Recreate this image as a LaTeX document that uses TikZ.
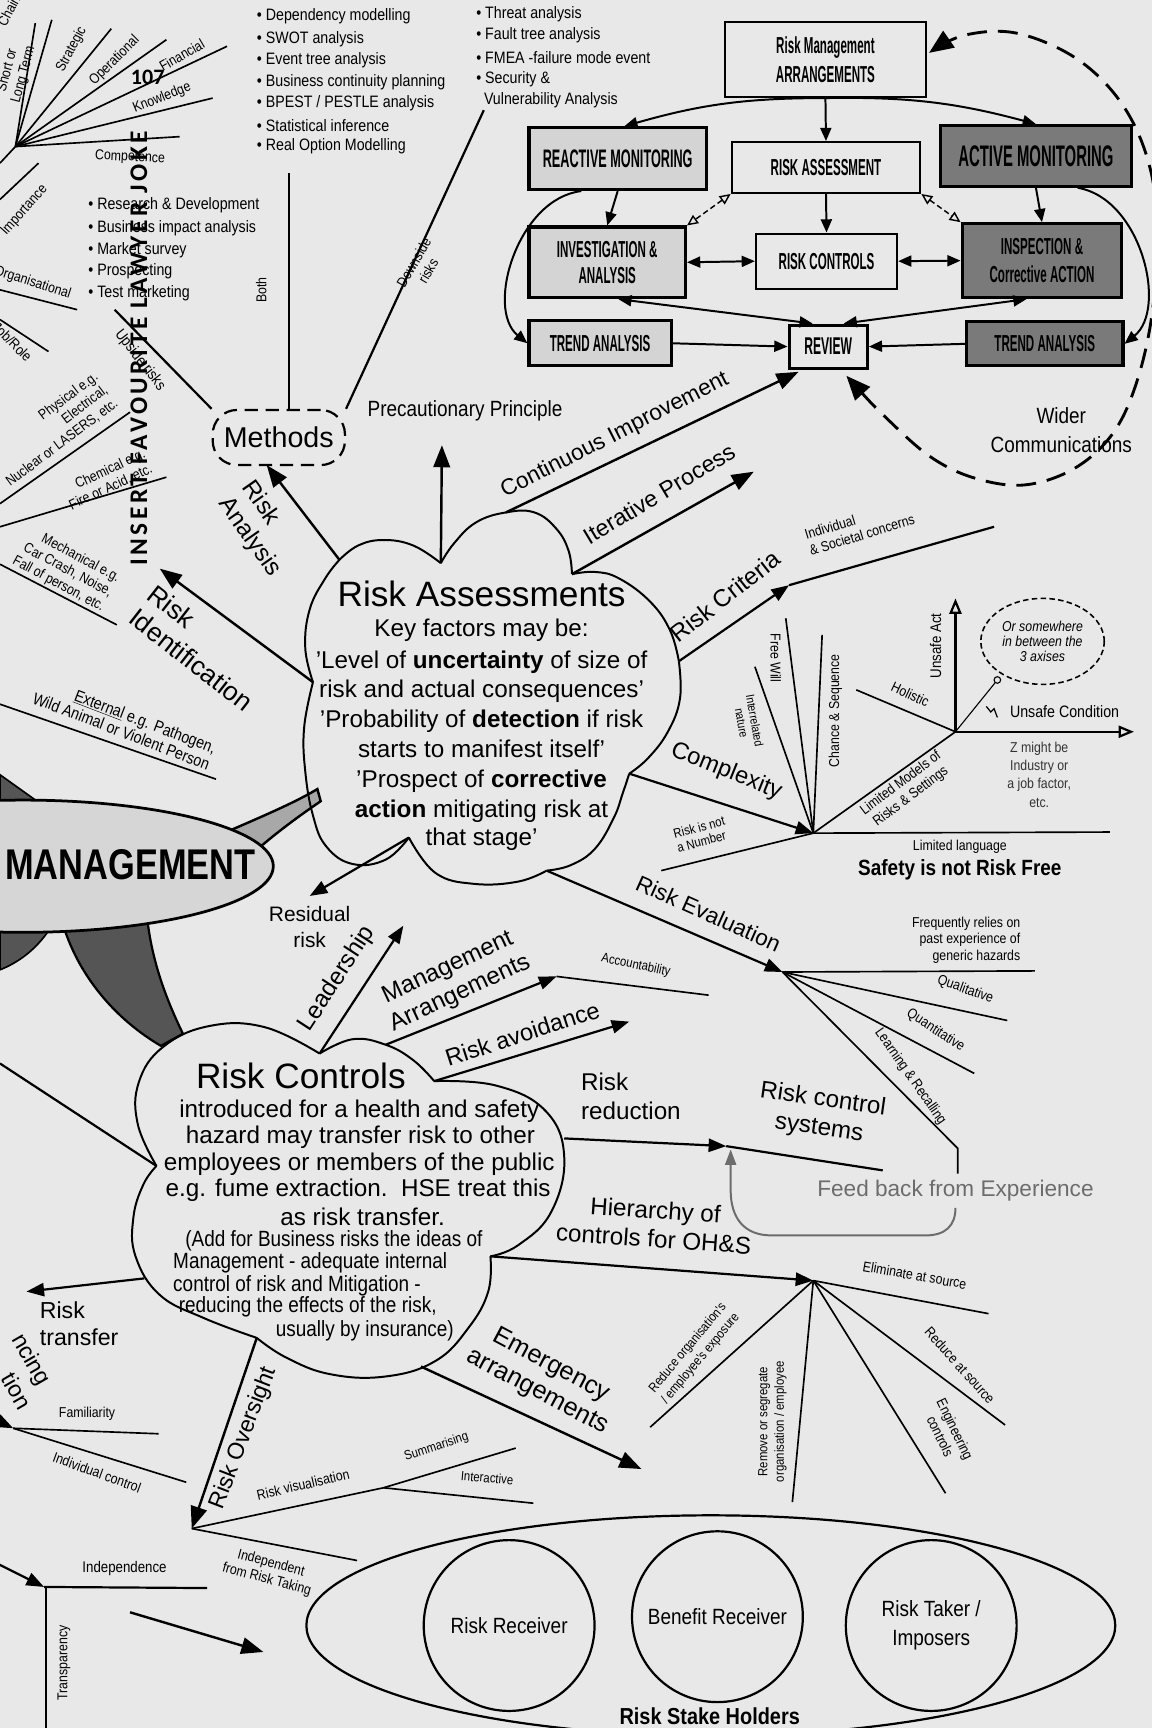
\documentclass[tikz,border=0pt]{standalone}
\usepackage{fontspec}
\setmainfont{Liberation Sans}
\newfontfamily\cond[FakeStretch=0.5]{Liberation Sans}
\newfontfamily\semi[FakeStretch=0.8]{Liberation Sans}
\newfontfamily\narr[FakeStretch=0.86]{Liberation Sans}
\newfontfamily\jokef[LetterSpace=14]{Carlito}
\newfontfamily\numf{Carlito}
\usetikzlibrary{arrows.meta,shapes.geometric}
\newcommand\fs[2]{\fontsize{#1}{#2}\selectfont}
\definecolor{bg}{HTML}{E8E8E8}
\definecolor{lbox}{HTML}{D4D4D4}
\definecolor{dbox}{HTML}{7A7A7A}
\definecolor{mgray}{HTML}{A8A8A8}
\definecolor{dband}{HTML}{555555}
\definecolor{feed}{HTML}{6C6C6C}
\definecolor{ell}{HTML}{D6D6D6}
\begin{document}
\begin{tikzpicture}[x=1pt,y=-1pt,
  ln/.style={line width=2pt},
  tl/.style={line width=1.5pt},
  big/.style={line width=2.2pt,-{Triangle[length=20pt,width=15pt]}},
  med/.style={line width=2pt,-{Triangle[length=16pt,width=12pt]}},
  sma/.style={line width=1.8pt,-{Triangle[length=12pt,width=10pt]}},
  dbl/.style={line width=1.8pt,{Triangle[length=12pt,width=10pt]}-{Triangle[length=12pt,width=10pt]}},
  opn/.style={line width=1.3pt,dash pattern=on 5pt off 3pt,{Triangle[open,length=10pt,width=9pt]}-{Triangle[open,length=10pt,width=9pt]}},
  cl/.style={line width=1.8pt},
  lb/.style={inner sep=0pt,font=\fs{22}{26}},
  sm/.style={inner sep=0pt,font=\narr\fs{13}{15}},
  lst/.style={inner sep=0pt,anchor=west,font=\narr\fs{15}{18}},
  box/.style={draw,line width=2pt,inner sep=0pt,align=center,font=\cond\bfseries\fs{21}{24}},
  lbx/.style={box,fill=lbox,line width=2.8pt},
  dbx/.style={box,fill=dbox,line width=2.8pt},
]
\useasboundingbox (0,0) rectangle (1045,1568);
\fill[bg] (0,0) rectangle (1045,1568);

% ================= top-left fan =================
\coordinate (f0) at (14,133);
\foreach \p in {(32,21),(47,18),(101,26),(151,36),(206,42),(193,89),(163,124),(0,148)}
  \draw[tl] (f0) -- \p;
\coordinate (imp1) at (35,148); \coordinate (imp2) at (0,181);
\draw[tl] (imp1) -- (imp2);
\coordinate (org1) at (0,263); \coordinate (org2) at (70,281);
\draw[tl] (org1) -- (org2);
\coordinate (role1) at (0,290); \coordinate (role2) at (44,319);
\draw[tl] (role1) -- (role2);
\node[sm,rotate=62] (tstrat) at (65,45) {Strategic};
\node[sm,rotate=45] (toper) at (104,55) {Operational};
\node[sm,rotate=30] (tfin) at (165,50) {Financial};
\node[sm,rotate=22] (tknow) at (147,89) {Knowledge};
\node[sm,rotate=-3] (tcomp) at (118,143) {Competence};
\node[sm,rotate=75,align=center] (tlong) at (14,66) {Short or\\Long Term};
\node[sm,rotate=62] (tchain) at (8,10) {Chain};
\node[sm,rotate=48,anchor=east] (timp) at (41,170) {Importance};
\node[sm,rotate=-18,anchor=east] (torg) at (64,268) {Organisational};
\node[sm,rotate=-45,anchor=east] (trole) at (27,326) {Job/Role};

% ================= lists =================
\node[lst] (a1) at (233,15) {• Dependency modelling};
\node[lst] (a2) at (233,36) {• SWOT analysis};
\node[lst] (a3) at (233,55) {• Event tree analysis};
\node[lst] (a4) at (233,75) {• Business continuity planning};
\node[lst] (a5) at (233,94) {• BPEST / PESTLE analysis};
\node[lst] (a6) at (233,114) {• Statistical inference};
\node[lst] (a7) at (233,133) {• Real Option Modelling};
\node[lst] (b1) at (432,13) {• Threat analysis};
\node[lst] (b2) at (432,32) {• Fault tree analysis};
\node[lst] (b3) at (432,52) {• FMEA -failure mode event};
\node[lst] (b4) at (432,72) {• Security \&};
\node[lst] (b5) at (439,91) {Vulnerability Analysis};
\node[lst] (c1) at (80,186) {• Research \& Development};
\node[lst] (c2) at (80,207) {• Business impact analysis};
\node[lst] (c3) at (80,227) {• Market survey};
\node[lst] (c4) at (80,246) {• Prospecting};
\node[lst] (c5) at (80,266) {• Test marketing};

% ================= methods =================
\node[draw,line width=2pt,dash pattern=on 12pt off 7pt,rounded corners=22pt,minimum width=120pt,minimum height=50pt,font=\fs{26}{26}] (methods) at (253,397) {Methods};
\coordinate (both0) at (262,157);
\coordinate (both1) at (262,372);
\draw[ln] (both0) -- (both1);
\coordinate (up0) at (104,281);
\draw[ln] (up0) -- (methods.north west);
\coordinate (down0) at (439,100);
\draw[ln] (methods.north east) -- (down0);
\node[sm,rotate=90] (tboth) at (237,263) {Both};
\node[sm,rotate=-52,font=\narr\fs{14}{16}] (tups) at (127,327) {Upside risks};
\node[sm,rotate=60,align=center] (tdown) at (382,242) {Downside\\risks};
\node[inner sep=0pt,font=\narr\fs{20}{22}] (prec) at (422,373) {Precautionary Principle};

% ================= left hazard labels =================
\coordinate (ph1) at (0,457); \coordinate (ph2) at (118,374);
\draw[tl] (ph1) -- (ph2);
\coordinate (ch1) at (0,478); \coordinate (ch2) at (151,433);
\draw[tl] (ch1) -- (ch2);
\coordinate (me1) at (0,512); \coordinate (me2) at (106,567);
\draw[tl] (me1) -- (me2);
\coordinate (ex1) at (0,639); \coordinate (ex2) at (196,707);
\draw[tl] (ex1) -- (ex2);
\node[sm,rotate=37,align=right,anchor=north east] (tphys) at (84,336) {Physical e.g.\\Electrical,\\Nuclear or LASERS, etc.};
\node[sm,rotate=25,align=right,anchor=south east] (tchem) at (140,430) {Chemical e.g.\\Fire or Acid, etc.};
\node[sm,rotate=-28,align=right] (tmech) at (60,517) {Mechanical e.g.\\Car Crash, Noise,\\Fall of person, etc.};
\node[sm,rotate=-21,align=right,font=\narr\fs{15}{16}] (text) at (113,656) {\underline{External} e.g. Pathogen,\\Wild Animal or Violent Person};

% ================= MANAGEMENT ellipse and bands =================
\fill[dband,draw=black,line width=1.5pt] (0,703) -- (35,728) -- (0,732) -- cycle;
\fill[dband,draw=black,line width=1.5pt] (0,835) -- (50,835) .. controls (35,862) and (15,874) .. (0,880) -- cycle;
\fill[dband,draw=black,line width=2pt] (56,835) .. controls (70,885) and (105,925) .. (146,949) -- (166,938) .. controls (150,905) and (137,870) .. (133,828) -- cycle;
\fill[mgray,draw=black,line width=2.2pt] (203,756) .. controls (240,740) and (268,728) .. (288,716) -- (291,727) .. controls (275,738) and (255,752) .. (232,772) -- cycle;
\filldraw[fill=ell,line width=2.5pt] (21,786) ellipse [x radius=227, y radius=60];
\node[inner sep=0pt,anchor=base east,font=\semi\bfseries\fs{39}{39}] (mgmt) at (232,798) {MANAGEMENT};

% ================= Risk Assessments cloud =================
\coordinate (ra1) at (308,508); \coordinate (ra2) at (400,511);
\coordinate (ra3) at (459,465); \coordinate (ra4) at (519,521);
\coordinate (ra5) at (616,600); \coordinate (ra6) at (571,702);
\coordinate (ra7) at (496,790); \coordinate (ra8) at (371,760);
\coordinate (ra10) at (284,619);
\draw[cl] plot[smooth,tension=0.7] coordinates {(ra1) (325,495) (348,490) (375,495) (ra2)};
\draw[cl] plot[smooth,tension=0.7] coordinates {(ra2) (412,493) (432,474) (ra3) (485,465) (505,480) (516,500) (ra4)};
\draw[cl] plot[smooth,tension=0.7] coordinates {(ra4) (540,519) (562,525) (590,546) (608,572) (ra5)};
\draw[cl] plot[smooth,tension=0.7] coordinates {(ra5) (617,634) (606,664) (588,688) (ra6)};
\draw[cl] plot[smooth,tension=0.7] coordinates {(ra6) (565,720) (557,742) (540,770) (518,785) (ra7)};
\draw[cl] plot[smooth,tension=0.7] coordinates {(ra7) (470,800) (430,802) (395,792) (ra8)};
\draw[cl] plot[smooth,tension=0.7] coordinates {(ra8) (350,780) (320,784) (296,768) (284,740) (277,700) (276,660) (ra10)};
\draw[cl] plot[smooth,tension=0.7] coordinates {(ra10) (277,588) (281,553) (295,525) (ra1)};
\node[inner sep=0pt,anchor=base,font=\fs{32}{32}] (rat) at (437,550) {Risk Assessments};
\node[inner sep=0pt,anchor=base,font=\fs{22}{26}] (ral1) at (437,578) {Key factors may be:};
\node[inner sep=0pt,anchor=base,font=\fs{22}{26}] (ral2) at (437,607) {'Level of \textbf{uncertainty} of size of};
\node[inner sep=0pt,anchor=base,font=\fs{22}{26}] (ral3) at (437,633) {risk and actual consequences'};
\node[inner sep=0pt,anchor=base,font=\fs{22}{26}] (ral4) at (437,660) {'Probability of \textbf{detection} if risk};
\node[inner sep=0pt,anchor=base,font=\fs{22}{26}] (ral5) at (437,687) {starts to manifest itself'};
\node[inner sep=0pt,anchor=base,font=\fs{22}{26}] (ral6) at (437,715) {'Prospect of \textbf{corrective}};
\node[inner sep=0pt,anchor=base,font=\fs{22}{26}] (ral7) at (437,742) {\textbf{action} mitigating risk at};
\node[inner sep=0pt,anchor=base,font=\fs{22}{26}] (ral8) at (437,767) {that stage'};

% ================= arrows from Risk Assessments =================
\coordinate (raend) at (242,422);
\draw[big] (ra1) -- (raend);
\node[lb,rotate=-55,align=left] (tra) at (237,480) {Risk\\Analysis};
\coordinate (riend) at (145,516);
\draw[big] (ra10) -- (riend);
\node[lb,rotate=-38,align=left,font=\fs{24}{27}] (tri) at (182,588) {Risk\\Identification};
\coordinate (precend) at (401,404);
\draw[big] (ra2) -- (precend);
\node[lb,rotate=27,font=\fs{20.5}{24}] (tci) at (558,395) {Continuous Improvement};
\coordinate (itend) at (684,428);
\draw[big] (ra4) -- (itend);
\node[lb,rotate=31,font=\fs{21}{24}] (tip) at (598,448) {Iterative Process};
\coordinate (rcrit) at (716,531); \coordinate (rcritend) at (902,478);
\draw[med] (ra5) -- (rcrit);
\draw[ln] (rcrit) -- (rcritend);
\node[lb,rotate=38] (trc) at (658,541) {Risk Criteria};
\node[sm,rotate=17,align=left] (tind) at (780,478) {Individual\\\& Societal concerns};
% complexity
\coordinate (c0) at (738,756);
\draw[med] (ra6) -- (c0);
\node[lb,rotate=-22,font=\fs{21.5}{24}] (tcx) at (659,700) {Complexity};
\coordinate (cfw) at (713,561); \coordinate (cir) at (685,605);
\coordinate (ccs) at (746,576); \coordinate (ax0) at (867,664);
\coordinate (chz) at (1007,755); \coordinate (cnum) at (600,790);
\draw[tl] (c0) -- (cfw); \draw[tl] (c0) -- (cir); \draw[tl] (c0) -- (ccs);
\draw[tl] (c0) -- (ax0); \draw[tl] (c0) -- (chz); \draw[tl] (cnum) -- (c0);
\node[sm,rotate=-90] (tfw) at (704,597) {Free Will};
\node[sm,rotate=-80,align=center,font=\narr\fs{11}{12}] (tirn) at (679,655) {Interrelated\\nature};
\node[sm,rotate=90] (tcs) at (758,645) {Chance \& Sequence};
\node[sm,rotate=37,align=center] (tlm) at (822,717) {Limited Models of\\Risks \& Settings};
\node[sm] (tll) at (871,768) {Limited language};
\node[inner sep=0pt,font=\narr\bfseries\fs{20}{22}] (tsafe) at (871,789) {Safety is not Risk Free};
\node[sm,rotate=15,align=left,font=\narr\fs{12}{13}] (tnum) at (636,757) {Risk is not\\a Number};
% axes
\coordinate (axup) at (867,543); \coordinate (axrt) at (1029,664);
\coordinate (axhol) at (777,626); \coordinate (axd) at (905,617);
\draw[line width=2pt,-{Triangle[open,length=14pt,width=11pt]}] (ax0) -- (axup);
\draw[line width=2pt,-{Triangle[open,length=14pt,width=11pt]}] (ax0) -- (axrt);
\draw[tl] (ax0) -- (axhol);
\draw[line width=1pt] (ax0) -- (axd);
\draw[line width=1pt,fill=bg] (axd) circle (3);
\node[draw,ellipse,line width=1.4pt,dash pattern=on 5pt off 3pt,minimum width=112pt,minimum height=78pt,inner sep=0pt,align=center,font=\narr\itshape\fs{13}{14}] (orsome) at (946,582) {Or somewhere\\in between the\\3 axises};
\node[sm,rotate=90,font=\narr\fs{14}{16}] (tua) at (849,586) {Unsafe Act};
\node[sm,font=\narr\fs{15}{16}] (tuc) at (966,646) {Unsafe Condition};
\draw[line width=1.1pt] (895,641) -- (899,646) -- (902,643) -- (905,651);
\node[sm,rotate=-25] (thol) at (826,630) {Holistic};
\node[sm,align=center,font=\narr\fs{13}{16.5},text=black!80] (tz) at (943,703) {Z might be\\Industry or\\a job factor,\\etc.};

% risk evaluation
\coordinate (v0) at (710,882);
\draw[med] (ra7) -- (v0);
\node[lb,rotate=-24,font=\fs{20.5}{24}] (tre) at (643,829) {Risk Evaluation};
\coordinate (ve1) at (939,881); \coordinate (ve2) at (914,926);
\coordinate (ve3) at (884,974); \coordinate (ve4) at (869,1042);
\coordinate (ve5) at (869,1065);
\draw[tl] (v0) -- (ve1); \draw[tl] (v0) -- (ve2); \draw[tl] (v0) -- (ve3);
\draw[tl] (v0) -- (ve4) -- (ve5);
\node[sm,align=right,anchor=east] (tfreq) at (926,853) {Frequently relies on\\past experience of\\generic hazards};
\node[sm,rotate=-20] (tqual) at (876,898) {Qualitative};
\node[sm,rotate=-33] (tquan) at (849,935) {Quantitative};
\node[sm,rotate=-55] (tlr) at (826,977) {Learning \& Recalling};
\node[inner sep=0pt,text=feed,font=\fs{20.5}{24}] (tfeed) at (867,1080) {Feed back from Experience};
\coordinate (fb1) at (867,1096);
\coordinate (fb3) at (663,1043);
\draw[feed,line width=1.8pt,-{Triangle[length=14pt,width=10pt]}] (fb1) .. controls (867,1112) and (858,1121) .. (840,1121) -- (700,1121) .. controls (675,1121) and (663,1105) .. (663,1080) -- (fb3);

% residual
\coordinate (resend) at (281,813);
\draw[med] (ra8) -- (resend);
\node[inner sep=0pt,align=center,font=\fs{19}{24}] (tres) at (281,841) {Residual\\risk};

% ================= Risk Controls cloud =================
\coordinate (rc8) at (142,1058); \coordinate (rc2) at (290,956);
\coordinate (rc4) at (394,981); \coordinate (rc5) at (445,1140);
\coordinate (rc7) at (233,1214); \coordinate (rcma) at (350,948);
\coordinate (rcrr) at (512,1033); \coordinate (rcem) at (382,1240);
\coordinate (rctr) at (131,1160);
\draw[cl] plot[smooth,tension=0.7] coordinates {(rc8) (125,1020) (126,982) (148,950) (190,931) (240,932) (rc2)};
\draw[cl] plot[smooth,tension=0.7] coordinates {(rc2) (320,943) (rcma) (375,962) (rc4)};
\draw[cl] plot[smooth,tension=0.7] coordinates {(rc4) (450,985) (495,1008) (512,1050) (500,1100) (470,1130) (rc5)};
\draw[cl] plot[smooth,tension=0.7] coordinates {(rc5) (443,1172) (425,1205) (395,1235) (350,1249) (300,1247) (260,1232) (rc7)};
\draw[cl] plot[smooth,tension=0.7] coordinates {(rc7) (185,1196) (145,1175) (123,1140) (121,1105) (130,1075) (rc8)};
\node[inner sep=0pt,anchor=base,font=\fs{32}{32}] (rct) at (273,988) {Risk Controls};
\node[inner sep=0pt,anchor=base,font=\fs{22}{26}] (rcl1) at (326,1014) {introduced for a health and safety};
\node[inner sep=0pt,anchor=base,font=\fs{22}{26}] (rcl2) at (327,1038) {hazard may transfer risk to other};
\node[inner sep=0pt,anchor=base,font=\fs{22}{26}] (rcl3) at (326,1062) {employees or members of the public};
\node[inner sep=0pt,anchor=base,font=\fs{22}{26}] (rcl4) at (325,1086) {e.g. fume extraction.\ \ HSE treat this};
\node[inner sep=0pt,anchor=base,font=\fs{22}{26}] (rcl5) at (329,1112) {as risk transfer.};
\node[inner sep=0pt,anchor=base west,font=\narr\fs{20}{20}] (rcp1) at (168,1131) {(Add for Business risks the ideas of};
\node[inner sep=0pt,anchor=base west,font=\narr\fs{20}{20}] (rcp2) at (157,1151) {Management - adequate internal};
\node[inner sep=0pt,anchor=base west,font=\narr\fs{20}{20}] (rcp3) at (157,1172) {control of risk and Mitigation -};
\node[inner sep=0pt,anchor=base west,font=\narr\fs{20}{20}] (rcp4) at (162,1191) {reducing the effects of the risk,};
\node[inner sep=0pt,anchor=base east,font=\narr\fs{20}{20}] (rcp5) at (412,1213) {usually by insurance)};

\coordinate (leftl) at (0,965);
\draw[ln] (leftl) -- (rc8);
% arrows from Risk Controls
\coordinate (leadend) at (366,840);
\draw[med] (rc2) -- (leadend);
\node[lb,rotate=57] (tlead) at (306,888) {Leadership};
\coordinate (maa) at (505,886); \coordinate (maend) at (643,903);
\draw[med] (rcma) -- (maa);
\draw[tl] (maa) -- (maend);
\node[lb,rotate=25,align=center] (tma) at (412,890) {Management\\Arrangements};
\node[sm,rotate=-12,font=\narr\fs{12}{13}] (tacc) at (577,876) {Accountability};
\coordinate (avend) at (571,927);
\draw[med] (rc4) -- (avend);
\node[lb,rotate=18,font=\fs{21.5}{24}] (tav) at (474,938) {Risk avoidance};
\coordinate (rra) at (659,1040); \coordinate (rrend) at (801,1062);
\draw[med] (rcrr) -- (rra);
\draw[ln] (rra) -- (rrend);
\node[lb,align=left,anchor=west] (trr) at (527,995) {Risk\\reduction};
\node[lb,rotate=-8,align=center] (trcs) at (745,1011) {Risk control\\systems};
\coordinate (h0) at (738,1162);
\draw[med] (rc5) -- (h0);
\node[lb,rotate=-4,align=center] (thoc) at (594,1111) {Hierarchy of\\controls for OH\&S};
\coordinate (he1) at (897,1192); \coordinate (he2) at (912,1293);
\coordinate (he3) at (858,1355); \coordinate (he4) at (719,1363);
\coordinate (he5) at (590,1295);
\foreach \e in {he1,he2,he3,he4,he5} \draw[tl] (h0) -- (\e);
\node[sm,rotate=-10] (telim) at (830,1157) {Eliminate at source};
\node[sm,rotate=-48] (tras) at (871,1239) {Reduce at source};
\node[sm,rotate=-64,align=center] (teng) at (860,1300) {Engineering\\controls};
\node[sm,rotate=90,align=center,font=\narr\fs{12}{15}] (trem) at (701,1290) {Remove or segregate\\organisation / employee};
\node[sm,rotate=50,align=center,font=\narr\fs{12}{15}] (tred) at (630,1228) {Reduce organisation's\\/ employee's exposure};
\coordinate (emend) at (582,1333);
\draw[big] (rcem) -- (emend);
\node[lb,rotate=-28,align=center,font=\fs{23}{27}] (tem) at (494,1251) {Emergency\\arrangements};
\coordinate (ov0) at (174,1387);
\draw[big] (rc7) -- (ov0);
\node[lb,rotate=69,font=\fs{21}{24}] (tov) at (221,1305) {Risk Oversight};
\coordinate (ovs) at (348,1350); \coordinate (ovs1) at (468,1314);
\coordinate (ovs2) at (484,1364); \coordinate (ovi) at (324,1416);
\draw[tl] (ov0) -- (ovs) -- (ovs1); \draw[tl] (ovs) -- (ovs2);
\draw[tl] (ov0) -- (ovi);
\node[sm,rotate=13] (trv) at (275,1347) {Risk visualisation};
\node[sm,rotate=18,font=\narr\fs{12}{13}] (tsum) at (396,1313) {Summarising};
\node[sm,rotate=-5,font=\narr\fs{12}{13}] (tint) at (442,1341) {Interactive};
\node[sm,rotate=-15,align=center] (tifr) at (244,1426) {Independent\\from Risk Taking};
\coordinate (trend) at (24,1172);
\draw[med] (rctr) -- (trend);
\node[lb,align=left,anchor=west,font=\fs{21}{24}] (ttr) at (36,1201) {Risk\\transfer};
\node[lb,rotate=-60,anchor=east,font=\fs{21}{24}] (tnc) at (40,1256) {ncing};
\node[lb,rotate=-60,anchor=east,font=\fs{21}{24}] (ttn) at (24,1277) {tion};
\coordinate (fam0) at (12,1296); \coordinate (famin) at (-15,1283);
\coordinate (fam1) at (144,1301); \coordinate (fam2) at (169,1345);
\draw[med] (famin) -- (fam0);
\draw[tl] (fam0) -- (fam1); \draw[tl] (fam0) -- (fam2);
\node[sm] (tfam) at (79,1283) {Familiarity};
\node[sm,rotate=-20] (tic) at (88,1336) {Individual control};
\coordinate (ind0) at (40,1440); \coordinate (indin) at (-12,1414);
\coordinate (ind1) at (188,1441); \coordinate (ind2) at (42,1580);
\coordinate (ind3) at (42,1440);
\draw[med] (indin) -- (ind0);
\draw[ln] (ind0) -- (ind1); \draw[ln] (ind3) -- (ind2);
\node[sm,font=\narr\fs{14}{16}] (tindep) at (113,1423) {Independence};
\node[sm,rotate=90] (ttransp) at (58,1509) {Transparency};
\coordinate (sa1) at (118,1463); \coordinate (sa2) at (239,1499);
\draw[big] (sa1) -- (sa2);

% ================= stakeholders =================
\node[draw,ellipse,line width=2pt,minimum width=734pt,minimum height=200pt] (stake) at (645,1475) {};
\node[draw,circle,line width=2pt,minimum size=155pt,inner sep=0pt,font=\narr\fs{20}{24},align=center] (rrecv) at (462,1475) {Risk Receiver};
\node[draw,circle,line width=2pt,minimum size=155pt,inner sep=0pt,font=\narr\fs{20}{24},align=center] (brecv) at (651,1467) {Benefit Receiver};
\node[draw,circle,line width=2pt,minimum size=155pt,inner sep=0pt,font=\narr\fs{20}{26},align=center] (rtaker) at (845,1475) {Risk Taker /\\Imposers};
\node[inner sep=0pt,font=\narr\bfseries\fs{21}{24}] (tstake) at (644,1557) {Risk Stake Holders};

% ================= flowchart =================
\node[box,minimum width=182pt,minimum height=68pt,font=\cond\bfseries\fs{21}{26}] (rma) at (749,54) {Risk Management\\ARRANGEMENTS};
\node[box,minimum width=171pt,minimum height=46pt] (rabox) at (749.5,152) {RISK ASSESSMENT};
\node[lbx,minimum width=161pt,minimum height=56pt,font=\cond\bfseries\fs{23}{24}] (react) at (560.5,144) {REACTIVE MONITORING};
\node[dbx,minimum width=174pt,minimum height=55pt,font=\cond\bfseries\fs{27}{27}] (active) at (940,141.5) {ACTIVE MONITORING};
\node[lbx,minimum width=142pt,minimum height=64pt] (invest) at (551,238) {INVESTIGATION \&\\ANALYSIS};
\node[box,minimum width=128pt,minimum height=50pt] (rcbox) at (750,237) {RISK CONTROLS};
\node[dbx,minimum width=145pt,minimum height=67pt,font=\cond\bfseries\fs{21}{26}] (inspect) at (945.5,236.5) {INSPECTION \&\\Corrective ACTION};
\node[lbx,minimum width=129pt,minimum height=41pt] (trendl) at (544.5,311.5) {TREND ANALYSIS};
\node[box,line width=2.8pt,minimum width=71pt,minimum height=39pt,font=\cond\bfseries\fs{22}{22}] (review) at (751.5,314.5) {REVIEW};
\node[dbx,minimum width=142pt,minimum height=40pt] (trendr) at (948,312) {TREND ANALYSIS};
\draw[sma] (rma.south) -- (rabox.north);
\draw[sma] (rma.south) to[bend right=8] ([xshift=6pt]react.north);
\draw[sma] (rma.south) to[bend left=8] (active.north);
\draw[sma] (rabox.south) -- (rcbox.north);
\draw[opn] (rabox.south west) -- (invest.north east);
\draw[opn] (rabox.south east) -- (inspect.north west);
\draw[sma] (react.south) -- (invest.north);
\draw[sma] (active.south) -- (inspect.north);
\draw[dbl] (invest.east) -- (rcbox.west);
\draw[dbl] (rcbox.east) -- (inspect.west);
\draw[sma] (trendl.east) -- (review.west);
\draw[sma] (trendr.west) -- (review.east);
\draw[dbl] ([xshift=10pt]invest.south) -- ([xshift=-14pt]review.north);
\draw[dbl] ([xshift=-14pt]inspect.south) -- ([xshift=14pt]review.north);
\draw[sma] ([xshift=-33pt]react.south) .. controls (470,180) and (440,280) .. (trendl.west);
\draw[sma] ([xshift=38pt]active.south) .. controls (1035,180) and (1060,280) .. (trendr.east);
\draw[line width=2.6pt,dash pattern=on 18pt off 10pt,{Triangle[length=22pt,width=18pt]}-{Triangle[length=22pt,width=18pt]}] plot[smooth,tension=0.6] coordinates {(768,341) (805,380) (845,415) (885,434) (930,440) (975,425) (1010,393) (1032,345) (1046,280) (1050,200) (1040,140) (1015,90) (975,52) (922,30) (875,32) (843,48)};
\node[inner sep=0pt,align=center,font=\narr\fs{20}{26}] (twider) at (963,390) {Wider\\Communications};
\draw[big] (ra3) -- ([xshift=10pt,yshift=-2pt]review.south west);

% ================= joke =================
\node[inner sep=0pt,rotate=90,font=\jokef\bfseries\fs{23}{23}] (joke) at (126,316) {INSERT FAVOURITE LAWYER JOKE};
\node[inner sep=0pt,font=\numf\bfseries\fs{20}{20}] (pnum) at (134,70) {107};
\end{tikzpicture}
\end{document}
